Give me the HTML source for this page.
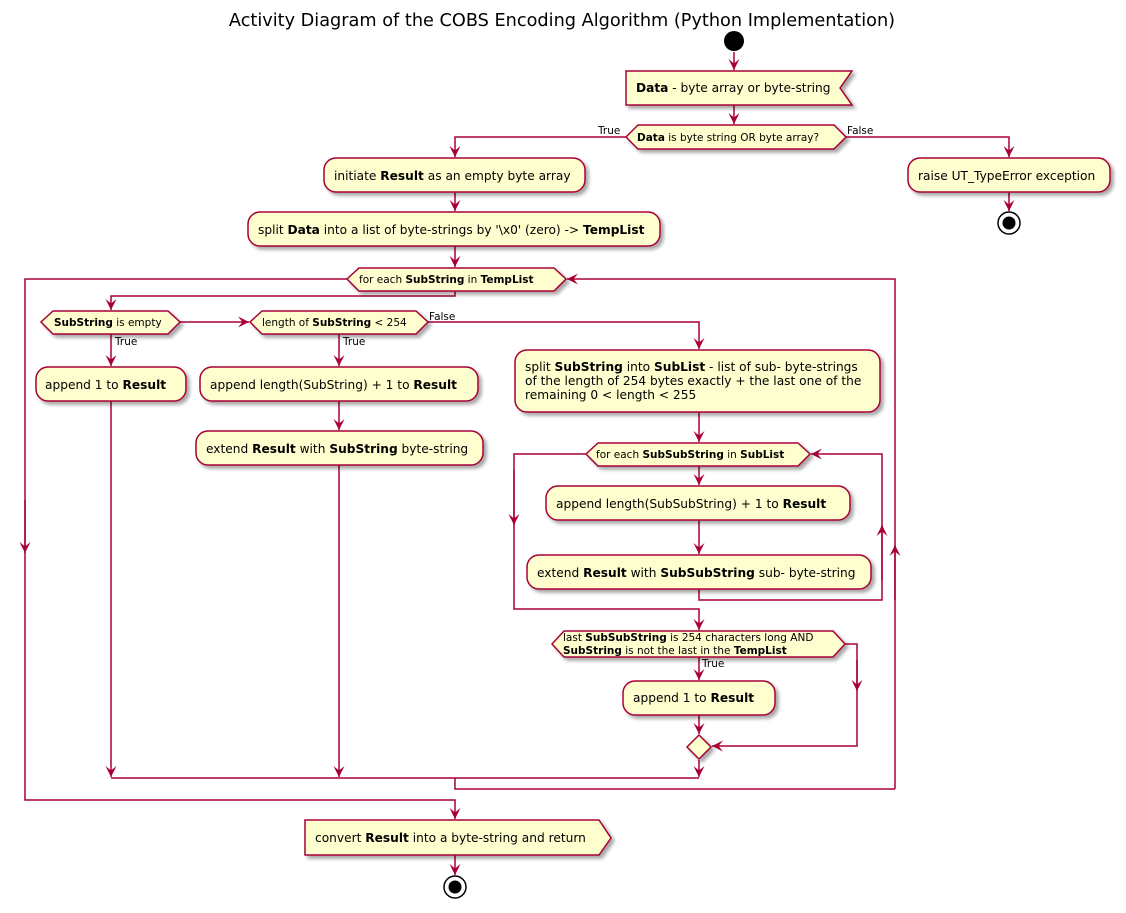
<!DOCTYPE html>
<html><head><meta charset="utf-8"><style>html,body{margin:0;padding:0;background:#fff}svg{display:block}text{font-family:"DejaVu Sans","Liberation Sans",sans-serif;fill:#000}</style></head><body>
<svg width="1126" height="913" viewBox="0 0 1126 913" xmlns="http://www.w3.org/2000/svg">
<defs>
<filter id="sh" x="-10%" y="-20%" width="130%" height="160%"><feGaussianBlur in="SourceAlpha" stdDeviation="1.8"/><feOffset dx="3" dy="3"/><feComponentTransfer><feFuncA type="linear" slope="0.35"/></feComponentTransfer><feMerge><feMergeNode/><feMergeNode in="SourceGraphic"/></feMerge></filter>
<marker id="a" markerWidth="12" markerHeight="12" refX="11" refY="5.5" orient="auto" markerUnits="userSpaceOnUse"><path d="M0,0 L11,5.5 L0,11 L4.5,5.5 Z" fill="#A80036"/></marker>
</defs>
<text x="562" y="26" font-size="17.7" text-anchor="middle">Activity Diagram of the COBS Encoding Algorithm (Python Implementation)</text>
<g stroke="#A80036" stroke-width="1.5" fill="none">
<path d="M734,52 V70" marker-end="url(#a)"/>
<path d="M734,105 V124" marker-end="url(#a)"/>
<path d="M626,137 H455 V157" marker-end="url(#a)"/>
<path d="M846,137 H1009 V157" marker-end="url(#a)"/>
<path d="M1009,192 V211" marker-end="url(#a)"/>
<path d="M455,192 V211" marker-end="url(#a)"/>
<path d="M455,246 V267" marker-end="url(#a)"/>
<path d="M347,279 H25 V800 H455 V819" marker-end="url(#a)"/>
<path d="M25,500 V553" marker-end="url(#a)"/>
<path d="M895,789 V279 H567" marker-end="url(#a)"/>
<path d="M895,600 V545" marker-end="url(#a)"/>
<path d="M455,291 V296 H111 V310" marker-end="url(#a)"/>
<path d="M180,322 H249" marker-end="url(#a)"/>
<path d="M428,322 H699 V349" marker-end="url(#a)"/>
<path d="M111,334 V366" marker-end="url(#a)"/>
<path d="M339,334 V366" marker-end="url(#a)"/>
<path d="M339,401 V430" marker-end="url(#a)"/>
<path d="M111,401 V777" marker-end="url(#a)"/>
<path d="M339,465 V777" marker-end="url(#a)"/>
<path d="M111,778 H699"/>
<path d="M699,760 V777" marker-end="url(#a)"/>
<path d="M455,778 V789 H895"/>
<path d="M699,412 V442" marker-end="url(#a)"/>
<path d="M586,454 H514 V609 H699 V630" marker-end="url(#a)"/>
<path d="M514,470 V525" marker-end="url(#a)"/>
<path d="M699,466 V485" marker-end="url(#a)"/>
<path d="M699,520 V554" marker-end="url(#a)"/>
<path d="M699,589 V600 H882 V454 H811" marker-end="url(#a)"/>
<path d="M882,580 V525" marker-end="url(#a)"/>
<path d="M845,644 H857 V746 H712" marker-end="url(#a)"/>
<path d="M857,660 V691" marker-end="url(#a)"/>
<path d="M699,657 V680" marker-end="url(#a)"/>
<path d="M699,715 V734" marker-end="url(#a)"/>
<path d="M455,855 V875" marker-end="url(#a)"/>
</g>
<g fill="#FEFECE" stroke="#A80036" stroke-width="1.5" filter="url(#sh)">
<polygon points="626,71 852,71 840,88 852,105 626,105"/>
<polygon points="638,125 834,125 846,137 834,149 638,149 626,137"/>
<rect x="324" y="158" width="261" height="34" rx="12"/>
<rect x="908" y="158" width="202" height="34" rx="12"/>
<rect x="248" y="212" width="412" height="34" rx="12"/>
<polygon points="359,268 554,268 566,279 554,291 359,291 347,279"/>
<polygon points="53,311 168,311 180,322 168,334 53,334 41,322"/>
<polygon points="262,311 416,311 428,322 416,334 262,334 250,322"/>
<rect x="36" y="367" width="150" height="34" rx="12"/>
<rect x="200" y="367" width="278" height="34" rx="12"/>
<rect x="196" y="431" width="287" height="34" rx="12"/>
<rect x="515" y="350" width="365" height="62" rx="12"/>
<polygon points="598,443 798,443 810,454 798,466 598,466 586,454"/>
<rect x="546" y="486" width="304" height="34" rx="12"/>
<rect x="527" y="555" width="344" height="34" rx="12"/>
<polygon points="564,631 833,631 845,644 833,657 564,657 552,644"/>
<rect x="623" y="681" width="152" height="34" rx="12"/>
<polygon points="699,735 711,747 699,759 687,747"/>
<polygon points="305,820 599,820 611,838 599,855 305,855"/>
</g>
<circle cx="734" cy="41" r="10" fill="#000"/>
<circle cx="1009" cy="223" r="11" fill="#fff" stroke="#000" stroke-width="1.5"/><circle cx="1009" cy="223" r="6.5" fill="#000"/>
<circle cx="455" cy="887" r="11" fill="#fff" stroke="#000" stroke-width="1.5"/><circle cx="455" cy="887" r="6.5" fill="#000"/>
<g font-size="12.2">
<text x="636" y="92"><tspan font-weight="bold">Data</tspan> - byte array or byte-string</text>
<text x="334" y="180">initiate <tspan font-weight="bold">Result</tspan> as an empty byte array</text>
<text x="918" y="180">raise UT_TypeError exception</text>
<text x="258" y="234">split <tspan font-weight="bold">Data</tspan> into a list of byte-strings by '\x0' (zero) -&gt; <tspan font-weight="bold">TempList</tspan></text>
<text x="45" y="389">append 1 to <tspan font-weight="bold">Result</tspan></text>
<text x="210" y="389">append length(SubString) + 1 to <tspan font-weight="bold">Result</tspan></text>
<text x="206" y="453">extend <tspan font-weight="bold">Result</tspan> with <tspan font-weight="bold">SubString</tspan> byte-string</text>
<text x="525" y="371">split <tspan font-weight="bold">SubString</tspan> into <tspan font-weight="bold">SubList</tspan> - list of sub- byte-strings</text>
<text x="525" y="385">of the length of 254 bytes exactly + the last one of the</text>
<text x="525" y="399">remaining 0 &lt; length &lt; 255</text>
<text x="556" y="508">append length(SubSubString) + 1 to <tspan font-weight="bold">Result</tspan></text>
<text x="537" y="577">extend <tspan font-weight="bold">Result</tspan> with <tspan font-weight="bold">SubSubString</tspan> sub- byte-string</text>
<text x="633" y="702">append 1 to <tspan font-weight="bold">Result</tspan></text>
<text x="315" y="842">convert <tspan font-weight="bold">Result</tspan> into a byte-string and return</text>
</g>
<g font-size="10.5">
<text x="637" y="141"><tspan font-weight="bold">Data</tspan> is byte string OR byte array?</text>
<text x="598" y="134">True</text>
<text x="847" y="134">False</text>
<text x="359" y="283">for each <tspan font-weight="bold">SubString</tspan> in <tspan font-weight="bold">TempList</tspan></text>
<text x="54" y="326"><tspan font-weight="bold">SubString</tspan> is empty</text>
<text x="262" y="326">length of <tspan font-weight="bold">SubString</tspan> &lt; 254</text>
<text x="429" y="320">False</text>
<text x="115" y="345">True</text>
<text x="343" y="345">True</text>
<text x="596" y="458">for each <tspan font-weight="bold">SubSubString</tspan> in <tspan font-weight="bold">SubList</tspan></text>
<text x="563" y="641">last <tspan font-weight="bold">SubSubString</tspan> is 254 characters long AND</text>
<text x="563" y="654"><tspan font-weight="bold">SubString</tspan> is not the last in the <tspan font-weight="bold">TempList</tspan></text>
<text x="702" y="667">True</text>
</g>
</svg>
</body></html>
